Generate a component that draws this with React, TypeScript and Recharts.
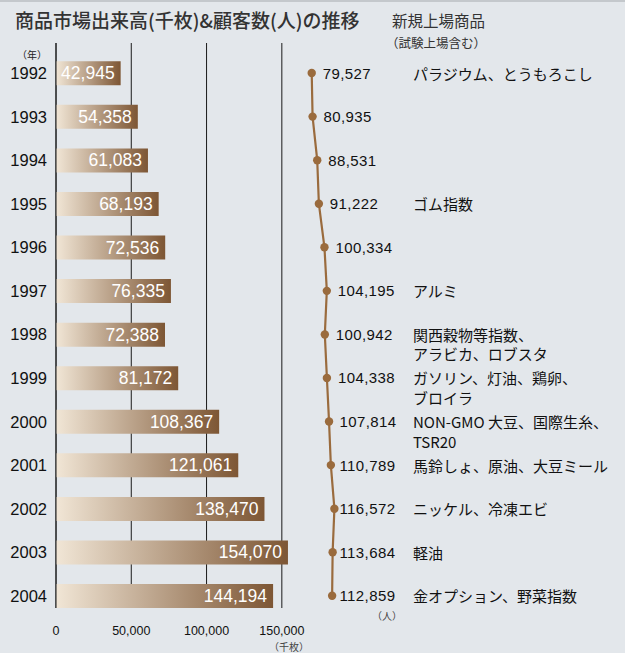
import {
  Bar,
  CartesianGrid,
  ComposedChart,
  LabelList,
  Line,
  LineChart,
  XAxis,
  YAxis,
} from "recharts";

const years = [1992, 1993, 1994, 1995, 1996, 1997, 1998, 1999, 2000, 2001, 2002, 2003, 2004];
const volumes = [42945, 54358, 61083, 68193, 72536, 76335, 72388, 81172, 108367, 121061, 138470, 154070, 144194];
const customers = [79527, 80935, 88531, 91222, 100334, 104195, 100942, 104338, 107814, 110789, 116572, 113684, 112859];
const newProducts: string[][] = [
  ["パラジウム、とうもろこし"],
  [],
  [],
  ["ゴム指数"],
  [],
  ["アルミ"],
  ["関西穀物等指数、", "アラビカ、ロブスタ"],
  ["ガソリン、灯油、鶏卵、", "ブロイラ"],
  ["NON-GMO 大豆、国際生糸、", "TSR20"],
  ["馬鈴しょ、原油、大豆ミール"],
  ["ニッケル、冷凍エビ"],
  ["軽油"],
  ["金オプション、野菜指数"],
];
const volumeTicks = [0, 50000, 100000, 150000];

const data = years.map((year, i) => ({
  year,
  volume: volumes[i],
  customers: customers[i],
}));

const W = 625;
const H = 653;
const yearDomain: [number, number] = [1991.31, 2004.28];
const latin = "'Liberation Sans', Arial, sans-serif";
const jp = "'Noto Sans CJK JP', sans-serif";
const brown = "#9a6b3d";

const fmt = (v: number) => v.toLocaleString("en-US");

const YearTick = (props: any) => {
  const { y, payload } = props;
  return (
    <text x={47} y={y} textAnchor="end" dominantBaseline="central" fontSize={16.5} fill="#111" fontFamily={latin}>
      {payload.value}
    </text>
  );
};

const VolumeLabel = (props: any) => {
  const { x, y, width, height, value } = props;
  return (
    <text
      x={x + width - 6}
      y={y + height / 2}
      textAnchor="end"
      dominantBaseline="central"
      fontSize={17.5}
      fill="#fff"
      fontFamily={latin}
    >
      {fmt(value)}
    </text>
  );
};

const CustomerLabel = (props: any) => {
  const { x, y, index } = props;
  const text = fmt(customers[index]);
  const w = (text.length - 1) * 8.74 + 4.57;
  const start = Math.min(x + 11, 396.5 - w);
  const lines = newProducts[index];
  return (
    <g>
      <text x={start} y={y} dominantBaseline="central" fontSize={15} letterSpacing={0.4} fill="#111" fontFamily={latin}>
        {text}
      </text>
      {lines.map((line, k) => (
        <text key={k} x={413} y={y + k * 19.5} dominantBaseline="central" fontSize={15} fill="#111" fontFamily={jp}>
          {line}
        </text>
      ))}
    </g>
  );
};

export default function App() {
  return (
    <div
      style={{
        position: "absolute",
        left: 0,
        top: 0,
        width: W,
        height: H,
        background: "#e3e7eb",
        overflow: "hidden",
        fontFamily: latin,
      }}
    >
      <div style={{ position: "absolute", left: 0, top: 0, width: W, height: 2, background: "#c4c8cc" }} />
      <div style={{ position: "absolute", left: 15, top: 8, fontSize: 19, lineHeight: "24px", fontWeight: 500, color: "#333", fontFamily: jp, whiteSpace: "nowrap" }}>
        商品市場出来高(千枚)&amp;顧客数(人)の推移
      </div>
      <div style={{ position: "absolute", left: 392, top: 10, fontSize: 15.5, lineHeight: "20px", color: "#333", fontFamily: jp }}>
        新規上場商品
      </div>
      <div style={{ position: "absolute", left: 386, top: 34, fontSize: 12.5, lineHeight: "18px", color: "#333", fontFamily: jp }}>
        （試験上場含む）
      </div>
      <div style={{ position: "absolute", left: 17, top: 48, fontSize: 10, lineHeight: "14px", color: "#222", fontFamily: jp }}>
        （年）
      </div>
      <div style={{ position: "absolute", left: 269, top: 640, fontSize: 10, lineHeight: "14px", color: "#444", fontFamily: jp }}>
        （千枚）
      </div>
      <div style={{ position: "absolute", left: 372, top: 609, fontSize: 10, lineHeight: "14px", color: "#444", fontFamily: jp }}>
        （人）
      </div>

      <div style={{ position: "absolute", left: 0, top: 0 }}>
        <ComposedChart width={W} height={H} data={data} layout="vertical" margin={{ top: 43, right: 27, bottom: 15, left: 0 }}>
          <defs>
            <linearGradient id="barGrad" x1="0" y1="0" x2="1" y2="0">
              <stop offset="0%" stopColor="#f1e6d6" />
              <stop offset="100%" stopColor="#7d5634" />
            </linearGradient>
          </defs>
          <CartesianGrid horizontal={false} vertical verticalValues={volumeTicks} stroke="#1a1a1a" strokeWidth={1} />
          <XAxis
            type="number"
            domain={[0, 360000]}
            ticks={volumeTicks}
            tickFormatter={fmt}
            axisLine={false}
            tickLine={false}
            height={30}
            tick={{ fontSize: 12.5, fill: "#111", fontFamily: latin }}
            tickMargin={12}
          />
          <YAxis
            type="number"
            dataKey="year"
            domain={yearDomain}
            allowDataOverflow
            ticks={years}
            width={56}
            axisLine={{ stroke: "#1a1a1a" }}
            tickLine={false}
            tick={<YearTick />}
          />
          <Bar dataKey="volume" fill="url(#barGrad)" barSize={24} isAnimationActive={false}>
            <LabelList dataKey="volume" content={<VolumeLabel />} />
          </Bar>
        </ComposedChart>
      </div>

      <div style={{ position: "absolute", left: 0, top: 0 }}>
        <LineChart width={W} height={H} data={data} layout="vertical" margin={{ top: 43, right: 239.5, bottom: 45, left: 263 }}>
          <XAxis type="number" domain={[0, 200000]} hide />
          <YAxis type="number" dataKey="year" domain={yearDomain} allowDataOverflow hide />
          <Line
            dataKey="customers"
            stroke={brown}
            strokeWidth={2.2}
            dot={{ r: 4.2, fill: brown, stroke: brown, strokeWidth: 0 }}
            isAnimationActive={false}
          >
            <LabelList dataKey="customers" content={<CustomerLabel />} />
          </Line>
        </LineChart>
      </div>
    </div>
  );
}
